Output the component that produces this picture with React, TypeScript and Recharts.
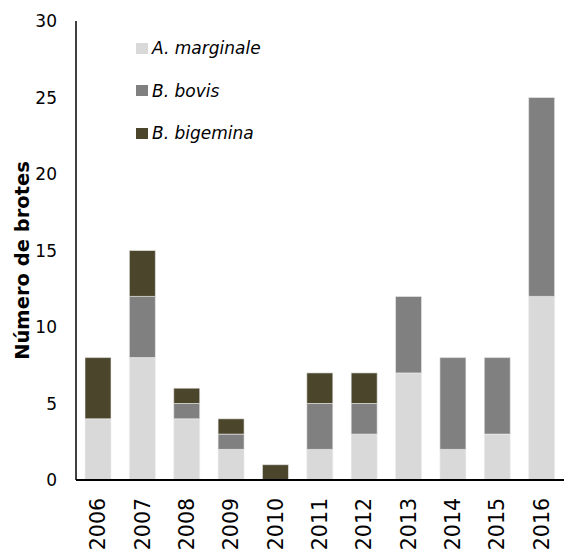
import { Bar, BarChart, Label, XAxis, YAxis } from "recharts";

const YEARS = ["2006", "2007", "2008", "2009", "2010", "2011", "2012", "2013", "2014", "2015", "2016"];
const MARGINALE = [4, 8, 4, 2, 0, 2, 3, 7, 2, 3, 12];
const BOVIS = [0, 4, 1, 1, 0, 3, 2, 5, 6, 5, 13];
const BIGEMINA = [4, 3, 1, 1, 1, 2, 2, 0, 0, 0, 0];
const Y_TICKS = [0, 5, 10, 15, 20, 25, 30];

const SERIES = [
  { key: "marginale", name: "A. marginale", color: "#d9d9d9" },
  { key: "bovis", name: "B. bovis", color: "#808080" },
  { key: "bigemina", name: "B. bigemina", color: "#4b452c" },
];

const data = YEARS.map((year, i) => ({
  year,
  marginale: MARGINALE[i],
  bovis: BOVIS[i],
  bigemina: BIGEMINA[i],
}));

const FONT = "'DejaVu Sans', sans-serif";

function LegendBox() {
  return (
    <div
      style={{
        position: "absolute",
        left: 136,
        top: 27,
        fontFamily: FONT,
        fontStyle: "italic",
        fontSize: 17,
        color: "#000",
      }}
    >
      {SERIES.map((s) => (
        <div key={s.key} style={{ display: "flex", alignItems: "center", height: 42.5 }}>
          <span style={{ width: 12, height: 11, background: s.color, marginRight: 4, display: "inline-block" }} />
          <span>{s.name}</span>
        </div>
      ))}
    </div>
  );
}

export default function App() {
  return (
    <div style={{ width: 564, height: 554, position: "relative" }}>
      <style>{`body{margin:0}`}</style>
      <BarChart
        width={564}
        height={554}
        data={data}
        margin={{ top: 21, right: 0, bottom: 0, left: 0 }}
        barSize={26}
      >
        <XAxis
          dataKey="year"
          interval={0}
          tickLine={false}
          tickSize={0}
          tickMargin={0}
          axisLine={{ stroke: "#000", strokeWidth: 2 }}
          height={74}
          tick={(props: any) => {
            const y = props.y + 18;
            return (
              <text
                x={props.x}
                y={y}
                transform={`rotate(-90 ${props.x} ${y})`}
                textAnchor="end"
                dominantBaseline="central"
                fontFamily={FONT}
                fontSize={20.5}
                fill="#000"
              >
                {props.payload.value}
              </text>
            );
          }}
        />
        <YAxis
          domain={[0, 30]}
          ticks={Y_TICKS}
          interval={0}
          width={76}
          tickLine={false}
          tickSize={0}
          axisLine={{ stroke: "#000", strokeWidth: 1.5 }}
          tickMargin={19}
          tick={{ fontFamily: FONT, fontSize: 17, fill: "#000" }}
        >
          <Label
            content={(props: any) => {
              const vb = props.viewBox;
              const x = vb.x + 22;
              const y = vb.y + vb.height / 2 + 10;
              return (
                <text
                  x={x}
                  y={y}
                  transform={`rotate(-90 ${x} ${y})`}
                  textAnchor="middle"
                  dominantBaseline="central"
                  fontFamily={FONT}
                  fontSize={19.5}
                  fontWeight={700}
                  fill="#000"
                >
                  Número de brotes
                </text>
              );
            }}
          />
        </YAxis>
        {SERIES.map((s) => (
          <Bar
            key={s.key}
            dataKey={s.key}
            name={s.name}
            stackId="a"
            fill={s.color}
            stroke="#eeeeee"
            strokeWidth={0.6}
            isAnimationActive={false}
          />
        ))}
      </BarChart>
      <LegendBox />
    </div>
  );
}
